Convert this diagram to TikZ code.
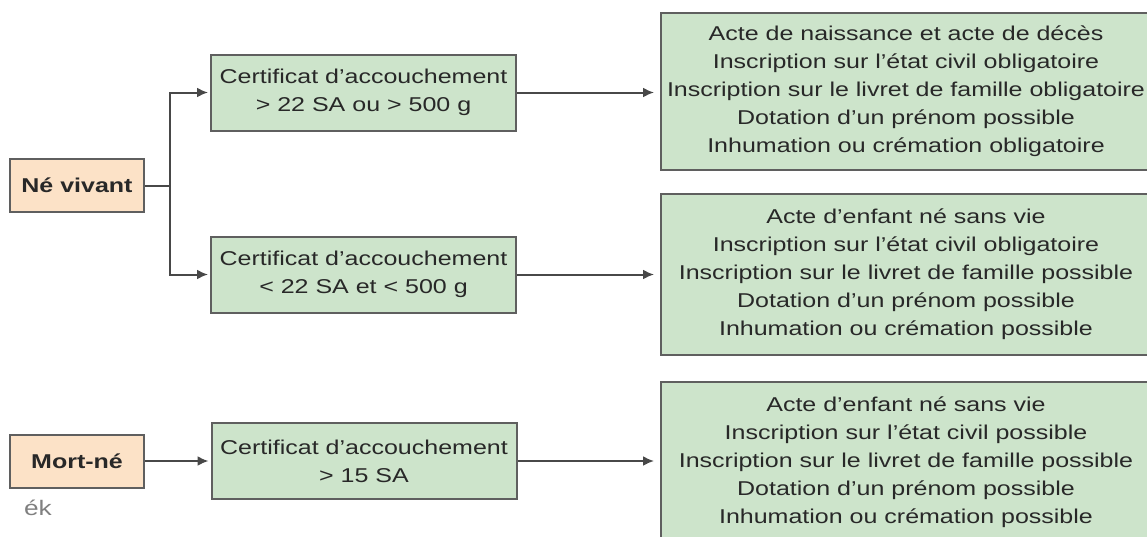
\documentclass[tikz,border=0pt]{standalone}
\usepackage{fontspec}
\setmainfont{Liberation Sans}
\newfontfamily\boxfont[FakeStretch=1.25]{Liberation Sans}
\usetikzlibrary{arrows.meta}
\definecolor{boxgreen}{RGB}{205,228,203}
\definecolor{boxorange}{RGB}{252,226,199}
\definecolor{edgegray}{RGB}{95,95,95}
\definecolor{inkgray}{RGB}{40,40,40}

\begin{document}
\begin{tikzpicture}[x=1pt,y=-1pt,
	every node/.style={font={\boxfont\fontsize{20}{28}\selectfont}, text=inkgray, align=center, inner sep=0pt},
	statebox/.style={draw=edgegray, line width=2pt, fill=boxorange, minimum width=134pt, minimum height=53pt, font={\boxfont\bfseries\fontsize{20}{28}\selectfont}},
	certbox/.style={draw=edgegray, line width=2pt, fill=boxgreen, minimum width=305pt, minimum height=76pt},
	resbox/.style={draw=edgegray, line width=2pt, fill=boxgreen, minimum width=490pt},
	flow/.style={draw=inkgray!85, line width=2pt, -{Latex[length=11pt,width=10pt]}}]
	\useasboundingbox (0,0) rectangle (1147,536);

	\node[statebox] (vivant) at (77,185.5) {Né vivant};
	\node[statebox] (mortne) at (77,461) {Mort-né};
	\node[font={\boxfont\fontsize{21}{22}\selectfont}, text=gray] (logo) at (38,508) {ék};

	\node[certbox] (cert1) at (363.5,92.5) {Certificat d’accouchement\\> 22 SA ou > 500 g};
	\node[certbox] (cert2) at (363.5,274.5) {Certificat d’accouchement\\< 22 SA et < 500 g};
	\node[certbox] (cert3) at (364,461) {Certificat d’accouchement\\> 15 SA};

	\node[resbox, minimum height=157pt] (res1) at (906,91.5) {Acte de naissance et acte de décès\\
		Inscription sur l’état civil obligatoire\\
		Inscription sur le livret de famille obligatoire\\
		Dotation d’un prénom possible\\
		Inhumation ou crémation obligatoire};
	\node[resbox, minimum height=161pt] (res2) at (906,274.5) {Acte d’enfant né sans vie\\
		Inscription sur l’état civil obligatoire\\
		Inscription sur le livret de famille possible\\
		Dotation d’un prénom possible\\
		Inhumation ou crémation possible};
	\node[resbox, minimum height=160pt] (res3) at (906,462) {Acte d’enfant né sans vie\\
		Inscription sur l’état civil possible\\
		Inscription sur le livret de famille possible\\
		Dotation d’un prénom possible\\
		Inhumation ou crémation possible};

	% né vivant splits in two
	\draw[draw=inkgray!85, line width=2pt] (vivant.east) -- ++(25,0) coordinate (fork);
	\draw[flow, shorten >=2pt] (fork) |- (cert1.west);
	\draw[flow, shorten >=2pt] (fork) |- (cert2.west);
	\draw[flow, shorten >=2pt] (mortne.east) -- (cert3.west);

	\draw[flow, shorten >=6pt] (cert1.east) -- (cert1.east -| res1.west);
	\draw[flow, shorten >=6pt] (cert2.east) -- (cert2.east -| res2.west);
	\draw[flow, shorten >=6pt] (cert3.east) -- (cert3.east -| res3.west);
\end{tikzpicture}
\end{document}
